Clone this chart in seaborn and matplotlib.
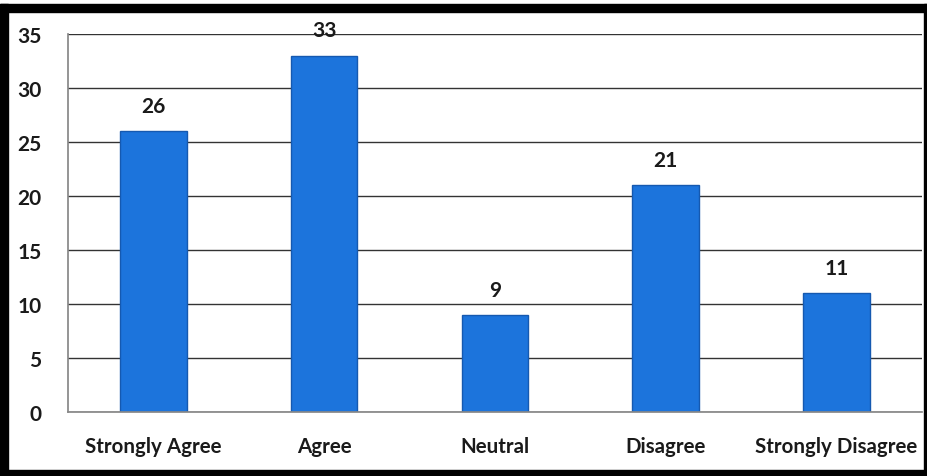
import matplotlib
matplotlib.use("Agg")
import matplotlib.pyplot as plt
import seaborn as sns
import pandas as pd
from matplotlib.patches import Rectangle

# data
categories = ["Strongly Agree", "Agree", "Neutral", "Disagree", "Strongly Disagree"]
counts = [26, 33, 9, 21, 11]
y_ticks = [0, 5, 10, 15, 20, 25, 30, 35]

df = pd.DataFrame({"response": categories, "count": counts})

sns.set_theme(style="white")
plt.rcParams["font.family"] = ["Lato", "DejaVu Sans"]

fig = plt.figure(figsize=(9.28, 4.77), dpi=100)
ax = fig.add_axes([0.0733, 0.134, 0.92, 0.7926])

sns.barplot(data=df, x="response", y="count", color="#1c74dc", width=0.39,
            edgecolor="#1559b0", linewidth=1, saturation=1, ax=ax)

ax.set_ylim(0, 35)
ax.set_xlim(-0.5, 4.5)
ax.set_yticks(y_ticks)
ax.set_yticklabels([str(t) for t in y_ticks], fontsize=15, fontweight="bold", color="#1a1a1a")
for lab in ax.get_xticklabels():
    lab.set_fontweight("bold")
ax.yaxis.grid(True, color="#333333", linewidth=1.0)
ax.set_axisbelow(True)
ax.set_xlabel("")
ax.set_ylabel("")
ax.tick_params(axis="x", labelsize=14.8, colors="#1a1a1a", length=0, pad=17)
ax.tick_params(axis="y", length=5, width=1, color="#888888", pad=14)

# category boundary ticks below the axis
ax.set_xticks([-0.5, 0.5, 1.5, 2.5, 3.5, 4.5], minor=True)
ax.tick_params(axis="x", which="minor", length=6, width=1, color="#888888", direction="out")

for side in ["top", "right"]:
    ax.spines[side].set_visible(False)
ax.spines["left"].set_color("#888888")
ax.spines["bottom"].set_color("#888888")

for i, v in enumerate(counts):
    ax.annotate(str(v), (i, v), xytext=(0, 11), textcoords="offset points",
                ha="center", va="bottom", fontsize=15, fontweight="bold", color="#1a1a1a")

# thick black frame around the picture
W, H = 928, 477
for x0, y0, w, h in [(0, 5, 928, 8), (0, 5, 8, 472), (0, 471, 928, 6), (924, 5, 4, 472)]:
    fig.patches.append(Rectangle((x0 / W, 1 - (y0 + h) / H), w / W, h / H,
                                 transform=fig.transFigure, color="black", zorder=10))

fig.savefig("out.png", dpi=100, facecolor="white")
